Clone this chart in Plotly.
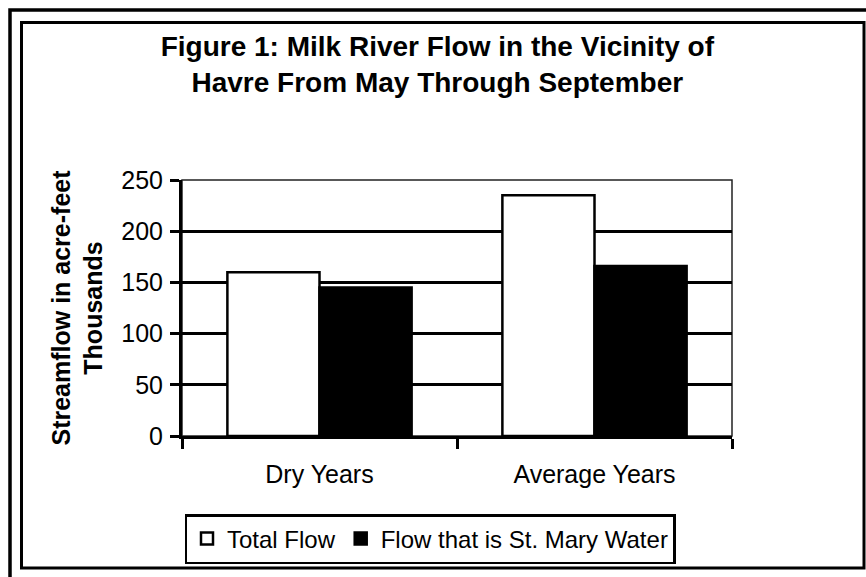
import plotly.graph_objects as go

categories = ["Dry Years", "Average Years"]
total_flow = [160, 235]
st_mary_flow = [145, 166]
series_names = ["Total Flow", "Flow that is St. Mary Water"]
y_ticks = [0, 50, 100, 150, 200, 250]

FONT = "Liberation Sans, Arial, sans-serif"

W, H = 866, 577
L, R, T, B = 182, 732, 180, 436

def px(x):
    return (x - L) / (R - L)

def py(y):
    return (B - y) / (B - T)

fig = go.Figure()
fig.add_trace(go.Bar(
    x=categories, y=total_flow, name=series_names[0],
    marker=dict(color="white", line=dict(color="black", width=2.5)),
))
fig.add_trace(go.Bar(
    x=categories, y=st_mary_flow, name=series_names[1],
    marker=dict(color="black", line=dict(color="black", width=2.5)),
))

shapes = [
    dict(type="rect", xref="paper", yref="paper", x0=0, x1=1, y0=0, y1=1,
         line=dict(color="#222", width=1.5), layer="below"),
    dict(type="rect", xref="paper", yref="paper",
         x0=px(21.5), x1=px(864), y0=py(568), y1=py(22.5),
         line=dict(color="black", width=3)),
    dict(type="rect", xref="paper", yref="paper",
         x0=px(10), x1=px(900), y0=py(620), y1=py(10),
         line=dict(color="black", width=3.5)),
]

fig.update_layout(
    width=W, height=H,
    margin=dict(l=L, r=W - R, t=T, b=H - B, pad=0),
    paper_bgcolor="white", plot_bgcolor="white",
    font=dict(family=FONT, size=25, color="black"),
    title=dict(
        text="<b>Figure 1: Milk River Flow in the Vicinity of<br>Havre From May Through September</b>",
        x=0.505, xanchor="center", y=1 - 56 / H, yanchor="top",
        font=dict(family=FONT, size=28, color="black"),
    ),
    barmode="group", bargap=0.33, bargroupgap=0,
    showlegend=True,
    legend=dict(
        orientation="h", x=px(430), xanchor="center", y=py(514), yanchor="top",
        bordercolor="black", borderwidth=2.5, bgcolor="white",
        font=dict(family=FONT, size=24, color="black"),
        itemwidth=30, traceorder="normal",
    ),
    shapes=shapes,
)

fig.update_xaxes(
    showline=True, linecolor="black", linewidth=3,
    ticks="outside", tickson="boundaries", ticklen=10, tickwidth=2.5, tickcolor="black",
    ticklabelstandoff=14, showgrid=False,
)
fig.update_yaxes(
    range=[0, 250], tickvals=y_ticks,
    showline=True, linecolor="black", linewidth=3,
    ticks="outside", ticklen=9, tickwidth=2.5, tickcolor="black",
    showgrid=True, gridcolor="black", gridwidth=2.5,
    zeroline=False, ticklabelstandoff=2,
    title=dict(text="<b>Streamflow in acre-feet<br>Thousands</b>",
               font=dict(family=FONT, size=25, color="black"), standoff=12),
)

fig.write_html("out.html", config={"displayModeBar": False},
               post_script="document.body.style.margin='0';")
